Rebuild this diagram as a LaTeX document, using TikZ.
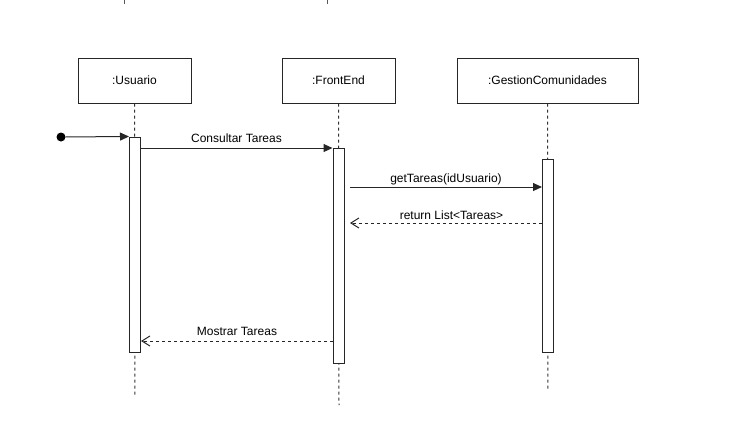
\documentclass[tikz,border=0pt]{standalone}
\usepackage{fontspec}
\setmainfont{Liberation Sans}
\usetikzlibrary{arrows.meta}
\begin{document}
\begin{tikzpicture}[x=1pt,y=-1pt,
  lc/.style={draw=black!85, line width=1pt},
  objbox/.style={lc, fill=white, minimum width=113pt, minimum height=45pt, inner sep=0pt, font=\fontsize{12}{14}\selectfont},
  lifeline/.style={draw=black!80, line width=1pt, dash pattern=on 3pt off 3pt},
  actbox/.style={lc, fill=white, inner sep=0pt, minimum width=11pt},
  syncmsg/.style={lc, -{Triangle[length=9pt,width=8pt]}},
  retmsg/.style={lc, dash pattern=on 3pt off 3pt, -{Straight Barb[length=8pt,width=10pt,line width=1pt]}},
  lbl/.style={font=\fontsize{12}{14}\selectfont, inner sep=0pt, anchor=base},
  tick/.style={draw=black!65, line width=1pt}
]
\useasboundingbox (0,0) rectangle (748,421);
% top ticks
\coordinate (t1a) at (124,0); \coordinate (t1b) at (124,4);
\coordinate (t2a) at (327,0); \coordinate (t2b) at (327,4);
\draw[tick] (t1a) -- (t1b);
\draw[tick] (t2a) -- (t2b);
% lifelines
\coordinate (uEnd) at (135,397);
\coordinate (fEnd) at (339,405);
\coordinate (gEnd) at (548,391);
\node[objbox] (usr) at (134.5,80.5) {:Usuario};
\node[objbox] (fe) at (338.5,80.5) {:FrontEnd};
\node[objbox, minimum width=181pt] (gc) at (547.5,80.5) {:GestionComunidades};
\draw[lifeline] (usr.south) -- (uEnd);
\draw[lifeline] (fe.south) -- (fEnd);
\draw[lifeline] (gc.south) -- (gEnd);
% activations
\node[actbox, minimum height=215pt] (ua) at (135,244.5) {};
\node[actbox, minimum height=215pt] (fa) at (338.5,255.5) {};
\node[actbox, minimum height=193pt] (ga) at (548,255.5) {};
% start
\node[circle, fill=black, inner sep=0pt, minimum size=9pt] (start) at (61,137) {};
\draw[syncmsg] (start) -- (ua.north west);
% messages
\coordinate (m1s) at (141,148);
\draw[syncmsg] (ua.east |- m1s) -- (fa.west |- m1s);
\node[lbl] (l1) at (236.5,142.5) {Consultar Tareas};
\coordinate (m2s) at (350,187);
\draw[syncmsg] (m2s) -- (ga.west |- m2s);
\node[lbl] (l2) at (446,182.5) {getTareas(idUsuario)};
\coordinate (m3e) at (350,223);
\draw[retmsg] (ga.west |- m3e) -- (m3e);
\node[lbl] (l3) at (451.5,219.5) {return List<Tareas>};
\coordinate (m4s) at (333,341);
\draw[retmsg] (fa.west |- m4s) -- (ua.east |- m4s);
\node[lbl] (l4) at (237,335) {Mostrar Tareas};
\end{tikzpicture}
\end{document}
